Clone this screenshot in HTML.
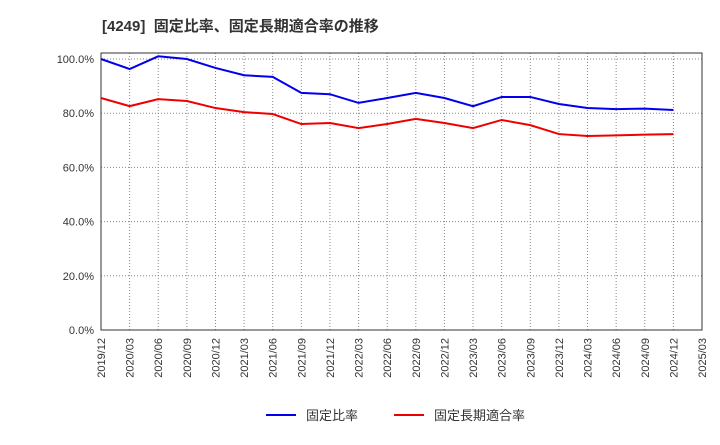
<!DOCTYPE html>
<html><head><meta charset="utf-8"><style>
body{margin:0;background:#fff;font-family:"Liberation Sans","Noto Sans CJK JP",sans-serif;}
svg text{font-family:"Liberation Sans","Noto Sans CJK JP",sans-serif;}
</style></head><body>
<svg id="c" width="720" height="440" xmlns="http://www.w3.org/2000/svg">
<text x="102" y="31" font-size="15" font-weight="bold" fill="#333">[4249]&#160;&#160;固定比率、固定長期適合率の推移</text>
<g id="grid"></g><g id="axes"></g><g id="series"></g>
<g>
<line x1="266" y1="415" x2="296" y2="415" stroke="#0000ee" stroke-width="2"/>
<text x="306" y="420" font-size="13" fill="#333">固定比率</text>
<line x1="394" y1="415" x2="424" y2="415" stroke="#ee0000" stroke-width="2"/>
<text x="434" y="420" font-size="13" fill="#333">固定長期適合率</text>
</g>
</svg>
<script>
const categories=["2019/12","2020/03","2020/06","2020/09","2020/12","2021/03","2021/06","2021/09","2021/12","2022/03","2022/06","2022/09","2022/12","2023/03","2023/06","2023/09","2023/12","2024/03","2024/06","2024/09","2024/12","2025/03"];
const fixedRatio=[100.0,96.3,101.0,100.0,96.7,94.0,93.4,87.5,87.0,83.8,85.6,87.5,85.6,82.6,86.0,86.0,83.4,81.9,81.5,81.7,81.2];
const longTermRatio=[85.6,82.6,85.2,84.5,81.9,80.4,79.7,76.0,76.4,74.5,76.0,77.9,76.4,74.5,77.5,75.6,72.3,71.6,71.8,72.1,72.3];
const yTicks=[0,20,40,60,80,100];
const yTickLabels=["0.0%","20.0%","40.0%","60.0%","80.0%","100.0%"];
const L=101,R=702,T=53,B=330;
const ns="http://www.w3.org/2000/svg";
const xs=i=>L+i*(R-L)/(categories.length-1);
const ys=v=>B-v*(B-59)/100;
function mk(tag,attrs,parent){const e=document.createElementNS(ns,tag);for(const k in attrs)e.setAttribute(k,attrs[k]);document.getElementById(parent).appendChild(e);return e;}
categories.forEach((c,i)=>{
 const g=mk("line",{x1:xs(i),x2:xs(i),y1:T,y2:B,stroke:"#888","stroke-dasharray":"1,2"},"grid");
 
 
 const t=mk("text",{x:0,y:0,"font-size":"11",fill:"#333","text-anchor":"end",transform:`translate(${xs(i)+4},${B+8}) rotate(-90)`},"axes");
 t.textContent=c;
 
 
});
yTicks.forEach((v,i)=>{
 const g=mk("line",{x1:L,x2:R,y1:ys(v),y2:ys(v),stroke:"#888","stroke-dasharray":"1,2"},"grid");
 
 
 const t=mk("text",{x:L-7,y:ys(v)+4,"font-size":"11",fill:"#333","text-anchor":"end"},"axes");
 t.textContent=yTickLabels[i];
 
 
});
const frame=mk("rect",{x:L,y:T,width:R-L,height:B-T,fill:"none",stroke:"#333","stroke-width":"1"},"axes");


function line(data,color,name){
 const p=mk("polyline",{points:data.map((v,i)=>xs(i)+","+ys(v)).join(" "),fill:"none",stroke:color,"stroke-width":"2"},"series");
 
 
}
line(fixedRatio,"#0000ee","fixed-ratio-line");
line(longTermRatio,"#ee0000","long-term-ratio-line");
</script>
</body></html>
